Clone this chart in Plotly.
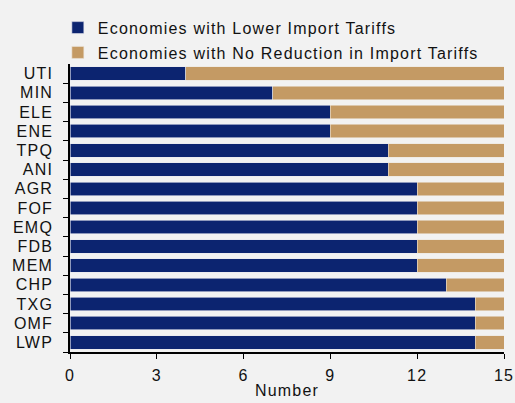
import plotly.graph_objects as go

categories = ["UTI", "MIN", "ELE", "ENE", "TPQ", "ANI", "AGR", "FOF", "EMQ", "FDB", "MEM", "CHP", "TXG", "OMF", "LWP"]
lower = [4, 7, 9, 9, 11, 11, 12, 12, 12, 12, 12, 13, 14, 14, 14]
no_reduction = [11, 8, 6, 6, 4, 4, 3, 3, 3, 3, 3, 2, 1, 1, 1]
x_ticks = [0, 3, 6, 9, 12, 15]
series_names = ["Economies with Lower Import Tariffs", "Economies with No Reduction in Import Tariffs"]

LS = 1.2  # letter spacing (px)


def sp(t):
    return f'<span style="letter-spacing:{LS}px">{t}</span>'


fig = go.Figure()
fig.add_trace(go.Bar(y=categories, x=lower, orientation="h",
                     name=sp(series_names[0]), legendgroup="a",
                     marker=dict(color="#0c2470", line=dict(color="#e8e8ee", width=0.6))))
fig.add_trace(go.Bar(y=categories, x=no_reduction, orientation="h",
                     name=sp(series_names[1]), legendgroup="b",
                     marker=dict(color="#c49a64", line=dict(color="#ece6dc", width=0.6))))

fig.update_layout(
    width=515, height=403,
    barmode="stack", bargap=0.3,
    paper_bgcolor="#f2f2f2", plot_bgcolor="#f2f2f2",
    margin=dict(l=70, r=11, t=64, b=51, autoexpand=False),
    font=dict(family="Liberation Sans, Arial, sans-serif", size=16, color="#111111"),
    legend=dict(x=-0.028, y=1.185, xanchor="left", yanchor="top", orientation="v",
                traceorder="grouped", bgcolor="rgba(0,0,0,0)", font=dict(size=16),
                itemwidth=30, tracegroupgap=1),
    xaxis=dict(range=[0, 15], tickvals=x_ticks, ticktext=[sp(str(v)) for v in x_ticks],
               showgrid=False, zeroline=False, automargin=False,
               showline=True, linecolor="#000000", linewidth=1.5,
               ticks="outside", ticklen=5, tickcolor="#000000", ticklabelstandoff=3,
               title=dict(text=sp("Number"), standoff=2, font=dict(size=16))),
    yaxis=dict(categoryorder="array", categoryarray=categories[::-1],
               tickvals=categories, ticktext=[sp(c) for c in categories],
               showgrid=False, showline=True, linecolor="#000000", linewidth=1.5,
               automargin=False, ticklabelstandoff=12,
               ticks="outside", ticklen=5, tickcolor="#000000", tickson="boundaries"),
)

fig.write_html(
    "out.html",
    config={"displayModeBar": False},
    post_script="document.body.style.margin='0';document.body.style.background='#f2f2f2';",
)
